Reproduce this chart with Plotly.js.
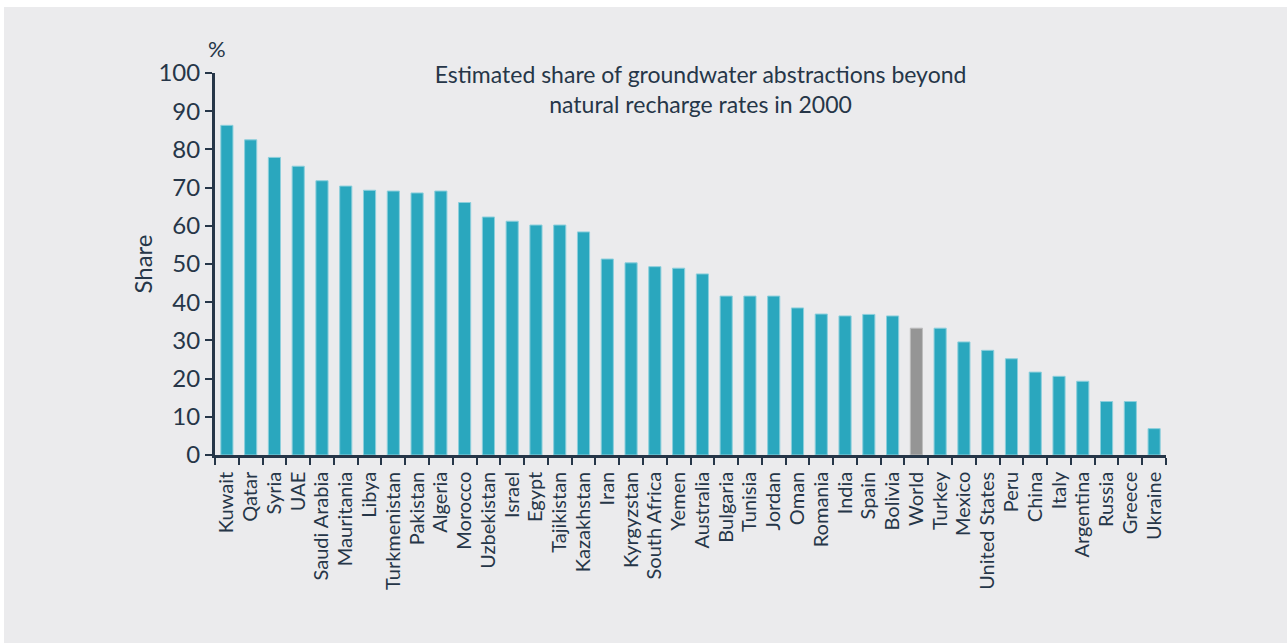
<!DOCTYPE html>
<html>
<head>
<meta charset="utf-8">
<script src="https://cdn.plot.ly/plotly-3.0.1.min.js"></script>
<style>
  html, body { margin: 0; padding: 0; background: #ffffff; width: 1287px; height: 643px; overflow: hidden; }
  #chart { position: absolute; left: 4px; top: 7px; width: 1283px; height: 636px; }
</style>
</head>
<body>
<div id="chart"></div>
<script>
const countries = ["Kuwait","Qatar","Syria","UAE","Saudi Arabia","Mauritania","Libya","Turkmenistan","Pakistan","Algeria",
  "Morocco","Uzbekistan","Israel","Egypt","Tajikistan","Kazakhstan","Iran","Kyrgyzstan","South Africa","Yemen",
  "Australia","Bulgaria","Tunisia","Jordan","Oman","Romania","India","Spain","Bolivia","World",
  "Turkey","Mexico","United States","Peru","China","Italy","Argentina","Russia","Greece","Ukraine"];
const shares = [86.3, 82.5, 77.9, 75.6, 71.8, 70.4, 69.3, 69.1, 68.6, 69.1,
  66.1, 62.3, 61.2, 60.2, 60.2, 58.4, 51.3, 50.3, 49.3, 48.9,
  47.4, 41.6, 41.6, 41.6, 38.5, 36.9, 36.4, 36.8, 36.4, 33.2,
  33.2, 29.6, 27.4, 25.2, 21.7, 20.6, 19.3, 14.0, 14.0, 6.9];
const highlight = "World";
const yTicks = [0,10,20,30,40,50,60,70,80,90,100];

const teal = "#2AA7BE", tealEdge = "#8CCFDC";
const grey = "#959595", greyEdge = "#BDBDBD";
const ink = "#263648";

const trace = {
  type: "bar",
  x: countries,
  y: shares,
  marker: {
    color: countries.map(c => c === highlight ? grey : teal),
    line: { color: countries.map(c => c === highlight ? greyEdge : tealEdge), width: 1 }
  },
  hoverinfo: "x+y"
};

const layout = {
  width: 1283, height: 636,
  paper_bgcolor: "#EBEBED",
  plot_bgcolor: "#EBEBED",
  margin: { l: 211, r: 121, t: 66, b: 188, pad: 0 },
  font: { family: "Lato, 'Open Sans', sans-serif", color: ink },
  bargap: 0.49,
  showlegend: false,
  title: {
    text: "Estimated share of groundwater abstractions beyond<br>natural recharge rates in 2000",
    font: { size: 23, color: ink, family: "Lato, sans-serif" },
    xref: "container", x: 0.5429, xanchor: "center",
    yref: "container", y: 0.881, yanchor: "middle"
  },
  xaxis: {
    type: "category",
    range: [-0.5, countries.length - 0.5],
    tickmode: "linear", tick0: 0, dtick: 1,
    tickangle: -90,
    tickfont: { size: 20, color: ink },
    ticks: "outside", tickson: "boundaries", ticklen: 7, tickwidth: 2, tickcolor: ink,
    ticklabelstandoff: 6,
    showline: true, linecolor: ink, linewidth: 2.5,
    showgrid: false, zeroline: false,
    fixedrange: true
  },
  yaxis: {
    range: [0, 100],
    tickvals: yTicks,
    ticktext: yTicks.map(String),
    tickfont: { size: 24, color: ink },
    ticks: "outside", ticklen: 7, tickwidth: 2, tickcolor: ink,
    showline: true, linecolor: ink, linewidth: 3,
    showgrid: false, zeroline: false,
    title: { text: "Share", font: { size: 24, color: ink }, standoff: 0 },
    fixedrange: true
  },
  annotations: [{
    text: "%", xref: "paper", yref: "paper",
    x: 0.002, y: 1.065, xanchor: "center", yanchor: "middle",
    showarrow: false, font: { size: 22, color: ink }
  }]
};

Plotly.newPlot("chart", [trace], layout, { displayModeBar: false, staticPlot: false });
</script>
</body>
</html>
